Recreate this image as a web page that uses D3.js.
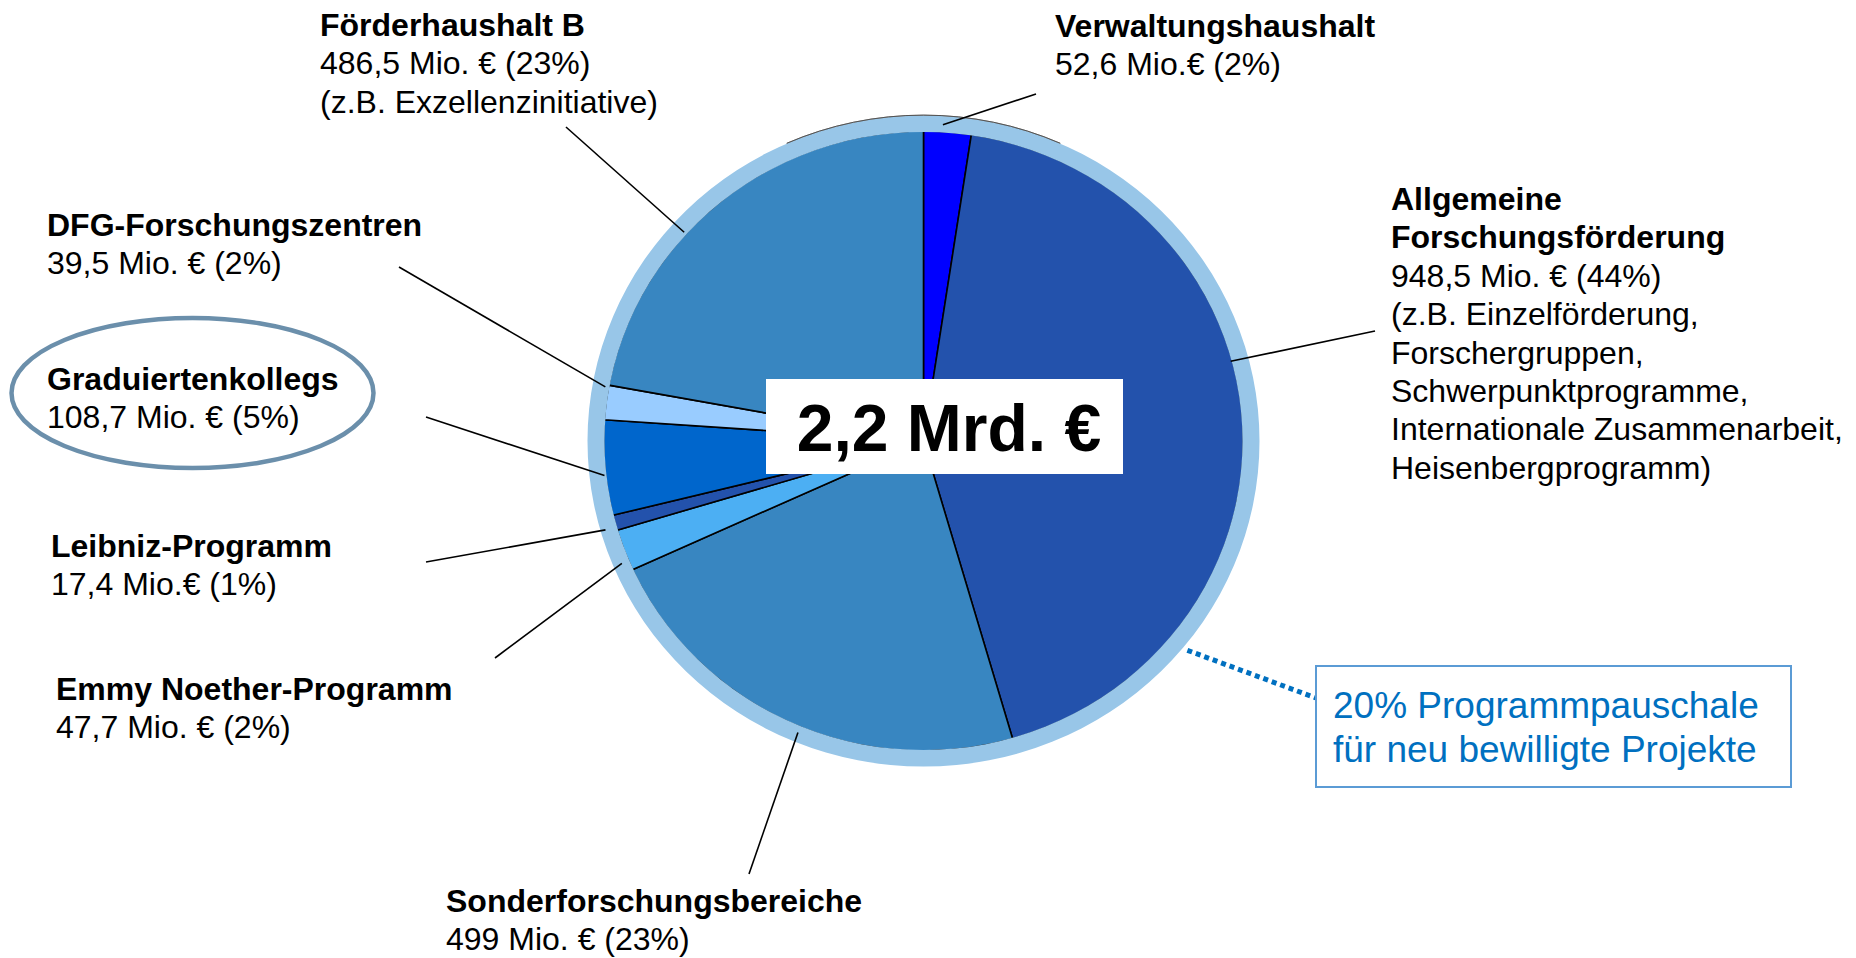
<!DOCTYPE html>
<html><head><meta charset="utf-8">
<script src="https://cdn.jsdelivr.net/npm/d3@7"></script>
<style>
html,body{margin:0;padding:0;background:#fff;}
svg{display:block;}
text{font-family:"Liberation Sans",Arial,Helvetica,sans-serif;}
</style>
</head><body>
<svg id="chart" width="1856" height="958"></svg>
<script>
// ---------- data ----------
const categories = ["Verwaltungshaushalt", "Allgemeine Forschungsförderung", "Sonderforschungsbereiche",
  "Emmy Noether-Programm", "Leibniz-Programm", "Graduiertenkollegs", "DFG-Forschungszentren", "Förderhaushalt B"];
const values = [52.6, 948.5, 499, 47.7, 17.4, 108.7, 39.5, 486.5]; // Mio. €
const valueLabels = ["52,6 Mio.€ (2%)", "948,5 Mio. € (44%)", "499 Mio. € (23%)", "47,7 Mio. € (2%)",
  "17,4 Mio.€ (1%)", "108,7 Mio. € (5%)", "39,5 Mio. € (2%)", "486,5 Mio. € (23%)"];
const titleLines = [["Verwaltungshaushalt"], ["Allgemeine", "Forschungsförderung"], ["Sonderforschungsbereiche"],
  ["Emmy Noether-Programm"], ["Leibniz-Programm"], ["Graduiertenkollegs"], ["DFG-Forschungszentren"], ["Förderhaushalt B"]];
const noteLines = [[], ["(z.B. Einzelförderung,", "Forschergruppen,", "Schwerpunktprogramme,", "Internationale Zusammenarbeit,", "Heisenbergprogramm)"],
  [], [], [], [], [], ["(z.B. Exzellenzinitiative)"]];
const totalLabel = "2,2 Mrd. €";
const calloutLines = ["20% Programmpauschale", "für neu bewilligte Projekte"];
const highlighted = "Graduiertenkollegs";

// ---------- styles / layout ----------
const colors = ["#0000FF", "#2352AC", "#3886C1", "#4CAFF3", "#2352AC", "#0066CC", "#99CCFF", "#3886C1"];
const ringColor = "#98C6E8";
const cx = 923.5, cy = 441, sy = 0.969;
const rPie = 320, rRingIn = 319, rRingOut = 336;
const lineH = 38.4, fontSize = 32;
// label layout: text x, first baseline y, leader outer end, leader inner angle offset (deg), leader inner radius
const layout = [
  {x: 1055, y: 37,  lx: 1036, ly: 94,  off: -0.9,  r: 327},
  {x: 1391, y: 210, lx: 1375, ly: 331, off: -11.2, r: 318},
  {x: 446,  y: 912, lx: 749,  ly: 874, off: -2.0,  r: 326},
  {x: 56,   y: 700, lx: 495,  ly: 658, off: -2.1,  r: 327},
  {x: 51,   y: 557, lx: 426,  ly: 562, off: -0.8,  r: 331},
  {x: 47,   y: 390, lx: 426,  ly: 417, off: -1.4,  r: 321},
  {x: 47,   y: 236, lx: 399,  ly: 267, off: 2.8,   r: 323},
  {x: 320,  y: 36,  lx: 566,  ly: 127, off: -8.2,  r: 322}
];

const svg = d3.select("#chart");
const pieData = d3.pie().sort(null).value(d => d)(values);
const arc = d3.arc().innerRadius(0).outerRadius(rPie);
const polar = (a, r) => [cx + r * Math.sin(a), cy - r * Math.cos(a) * sy];

const g = svg.append("g").attr("transform", `translate(${cx},${cy}) scale(1,${sy})`);
g.selectAll("path.slice").data(pieData).join("path")
  .attr("class", "slice")
  .attr("d", arc)
  .attr("fill", (d, i) => colors[i])
  .attr("stroke", "#000")
  .attr("stroke-width", 1.6)
  .attr("stroke-linejoin", "round")
  .attr("vector-effect", "non-scaling-stroke");

// ring
g.append("path")
  .attr("d", d3.arc().innerRadius(rRingIn).outerRadius(rRingOut).startAngle(0).endAngle(2 * Math.PI)())
  .attr("fill", ringColor);
// thin outline on top of ring
g.append("path")
  .attr("d", d3.arc().innerRadius(rRingOut + 0.3).outerRadius(rRingOut + 0.3)
    .startAngle(-24 * Math.PI / 180).endAngle(24 * Math.PI / 180)())
  .attr("fill", "none").attr("stroke", "#444").attr("stroke-width", 0.9).attr("stroke-opacity", 0.8)
  .attr("vector-effect", "non-scaling-stroke");

// leader lines
pieData.forEach((d, i) => {
  const L = layout[i];
  const a = (d.startAngle + d.endAngle) / 2 + L.off * Math.PI / 180;
  const [px, py] = polar(a, L.r);
  svg.append("line")
    .attr("x1", L.lx).attr("y1", L.ly).attr("x2", px).attr("y2", py)
    .attr("stroke", "#000").attr("stroke-width", 1.6);
});

// center label
svg.append("rect").attr("x", 766).attr("y", 379).attr("width", 357).attr("height", 95).attr("fill", "#fff");
svg.append("text").attr("x", 949).attr("y", 451).attr("text-anchor", "middle")
  .attr("font-size", 66).attr("font-weight", "bold").attr("fill", "#000").text(totalLabel);

// labels
categories.forEach((c, i) => {
  const L = layout[i];
  const t = svg.append("text").attr("font-size", fontSize).attr("fill", "#000");
  const lines = [];
  titleLines[i].forEach(s => lines.push({s, b: true}));
  lines.push({s: valueLabels[i], b: false});
  noteLines[i].forEach(s => lines.push({s, b: false}));
  lines.forEach((ln, k) => {
    t.append("tspan").attr("x", L.x).attr("y", L.y + k * lineH)
      .attr("font-weight", ln.b ? "bold" : "normal").text(ln.s);
  });
});

// highlight ellipse
svg.append("ellipse").attr("cx", 192.5).attr("cy", 393).attr("rx", 181).attr("ry", 75)
  .attr("fill", "none").attr("stroke", "#6B8FAB").attr("stroke-width", 4.5);

// callout
const [dx0, dy0] = polar(129.3 * Math.PI / 180, 341);
svg.append("line").attr("x1", dx0).attr("y1", dy0).attr("x2", 1316).attr("y2", 698)
  .attr("stroke", "#0070C0").attr("stroke-width", 5).attr("stroke-dasharray", "5 4");
svg.append("rect").attr("x", 1316).attr("y", 666).attr("width", 475).attr("height", 121)
  .attr("fill", "#fff").attr("stroke", "#5B9BD5").attr("stroke-width", 2);
const ct = svg.append("text").attr("font-size", 37).attr("fill", "#0070C0");
calloutLines.forEach((s, k) => ct.append("tspan").attr("x", 1333).attr("y", 718 + k * 44).text(s));
</script>
</body></html>
